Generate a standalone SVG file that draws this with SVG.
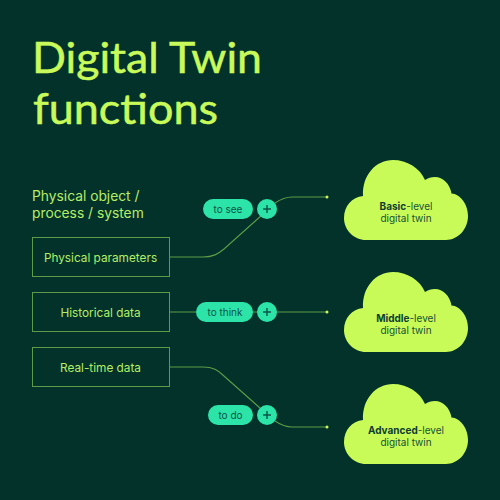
<svg xmlns="http://www.w3.org/2000/svg" width="500" height="500" viewBox="0 0 500 500">
<style>
text{font-family:Inter,"Liberation Sans",sans-serif}
.title{font-family:Lato,"Liberation Sans",sans-serif;font-size:43px;font-weight:400;fill:#c8fb5a;stroke:#c8fb5a;stroke-width:.5}
.lab{font-size:13.800px;fill:#b5ee64}
.box{fill:none;stroke:#5c9c48;stroke-width:1}
.bt{font-size:11.800px;fill:#b5ee64;text-anchor:middle}
.pill{fill:#2ce3a8}
.pt{font-size:10px;fill:#0c5446;text-anchor:middle}
.plus{stroke:#0c5446;stroke-width:1.400;fill:none}
.con{fill:none;stroke:#5c9c48;stroke-width:1.100}
.dot{fill:#c8fb5a}
.cloud{fill:#c8fb57}
.ct{font-size:10px;fill:#1a5038;text-anchor:middle}
.ct tspan.b{font-weight:700;fill:#0f3d33}
</style>
<defs>
<path id="cloud" d="M366 240H446C458 240 468 229 468 216C468 204 460 194 451.500 193.500C450 184 443 177 435 177C431 177 428 178 425 180C420 168 407 160 393 160C376 160 362 175 363 196C352 197 344 206 344 218C344 230 354 240 366 240Z"/>
<g id="plus"><circle class="pill" r="10"/><path class="plus" d="M-4 0H4M0-4V4"/></g>
</defs>
<rect width="500" height="500" fill="#03322a"/>
<text class="title" x="32" y="73" textLength="230" lengthAdjust="spacingAndGlyphs">Digital Twin</text>
<text class="title" x="33" y="124" textLength="185" lengthAdjust="spacingAndGlyphs">functions</text>
<text class="lab" x="32" y="200.500">Physical object /</text>
<text class="lab" x="32" y="218">process / system</text>
<g id="connectors">
<path class="con" d="M170 257H203C213 257 218 254 224 249L262 215M275 203C281 199 285 197 292 197H327"/>
<path class="con" d="M170 312H327"/>
<path class="con" d="M170 367H203C213 367 218 370 224 376L260 408M275 421C281 425 285 427 292 427H327"/>
<circle class="dot" cx="327" cy="197" r="1.500"/>
<circle class="dot" cx="327" cy="312" r="1.500"/>
<circle class="dot" cx="327" cy="427" r="1.500"/>
</g>
<g id="node-physical"><rect class="box" x="32.500" y="237.500" width="137" height="39"/><text class="bt" x="100.500" y="261.500">Physical parameters</text></g>
<g id="node-historical"><rect class="box" x="32.500" y="292.500" width="137" height="39"/><text class="bt" x="100.500" y="316.500">Historical data</text></g>
<g id="node-realtime"><rect class="box" x="32.500" y="347.500" width="137" height="39"/><text class="bt" x="100.500" y="371.500">Real-time data</text></g>
<g id="op-see"><rect class="pill" x="203" y="199" width="50" height="20" rx="10"/><text class="pt" x="228" y="213">to see</text><use href="#plus" x="267" y="209"/></g>
<g id="op-think"><rect class="pill" x="196" y="302" width="57" height="20" rx="10"/><text class="pt" x="225" y="316">to think</text><use href="#plus" x="267" y="312"/></g>
<g id="op-do"><rect class="pill" x="208" y="405" width="45" height="20" rx="10"/><text class="pt" x="230.500" y="419">to do</text><use href="#plus" x="267" y="415"/></g>
<g id="cloud-basic"><use class="cloud" href="#cloud"/><text class="ct" x="406" y="210"><tspan class="b">Basic</tspan>-level</text><text class="ct" x="406" y="222">digital twin</text></g>
<g id="cloud-middle"><use class="cloud" href="#cloud" y="112"/><text class="ct" x="406" y="322"><tspan class="b">Middle</tspan>-level</text><text class="ct" x="406" y="334">digital twin</text></g>
<g id="cloud-advanced"><use class="cloud" href="#cloud" y="224"/><text class="ct" x="406" y="434"><tspan class="b">Advanced</tspan>-level</text><text class="ct" x="406" y="446">digital twin</text></g>
</svg>
